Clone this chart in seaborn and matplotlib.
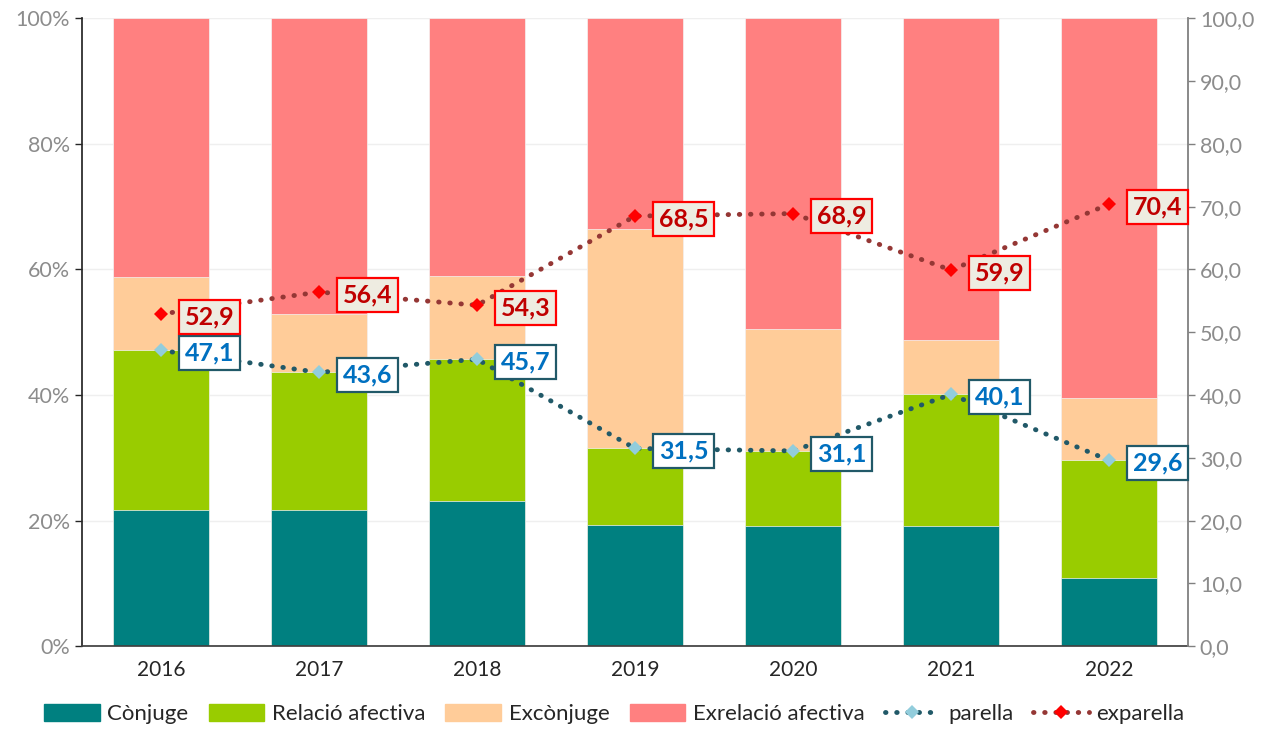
import numpy as np
import pandas as pd
import matplotlib.pyplot as plt
import seaborn as sns
from matplotlib.patches import Patch
from matplotlib.lines import Line2D

# Data (percentages)
years = ["2016", "2017", "2018", "2019", "2020", "2021", "2022"]
conjuge = [21.7, 21.7, 23.2, 19.3, 19.1, 19.1, 10.8]
relacio = [25.4, 21.9, 22.5, 12.2, 12.0, 21.0, 18.8]
exconjuge = [11.7, 9.3, 13.2, 34.9, 19.4, 8.6, 10.0]
exrelacio = [41.2, 47.1, 41.1, 33.6, 49.5, 51.3, 60.4]
parella = [47.1, 43.6, 45.7, 31.5, 31.1, 40.1, 29.6]
exparella = [52.9, 56.4, 54.3, 68.5, 68.9, 59.9, 70.4]

sns.set_theme(style="white")
plt.rcParams["font.family"] = ["Lato", "DejaVu Sans"]

colors = {"Cònjuge": "#008080", "Relació afectiva": "#99CC00",
          "Excònjuge": "#FFCC99", "Exrelació afectiva": "#FF8080"}

df = pd.DataFrame({"year": years, "Cònjuge": conjuge, "Relació afectiva": relacio,
                   "Excònjuge": exconjuge, "Exrelació afectiva": exrelacio})
series = ["Cònjuge", "Relació afectiva", "Excònjuge", "Exrelació afectiva"]
cum = df[series].cumsum(axis=1)

fig, ax = plt.subplots(figsize=(12.72, 7.31), dpi=100)
fig.subplots_adjust(left=0.0645, right=0.934, top=0.975, bottom=0.116)

# stacked bars: draw cumulative totals from the top down
for s in reversed(series):
    sns.barplot(x=df["year"], y=cum[s], color=colors[s], saturation=1,
                width=0.61, ax=ax, zorder=2, linewidth=0.5, edgecolor="#F4F4F4")

ax.set_xlim(-0.5, 6.5)
ax.set_ylim(0, 100)
ax.set_yticks(np.arange(0, 101, 20))
ax.set_yticklabels([f"{v}%" for v in range(0, 101, 20)])
ax.yaxis.grid(True, color="#EFEFEF", linewidth=1, zorder=0)
ax.set_axisbelow(True)
ax.set_xlabel("")
ax.set_ylabel("")
ax.set_xticks(np.arange(7))
ax.set_xticklabels(years)
ax.tick_params(axis="x", length=0, labelsize=15, labelcolor="#262626", pad=10)
ax.set_xticks(np.arange(-0.5, 7, 1), minor=True)
ax.tick_params(axis="x", which="minor", length=8, width=1, color="#404040", direction="out")
ax.tick_params(axis="y", length=5, width=1, color="#262626", direction="out",
               labelsize=15.5, labelcolor="#8C8C8C", left=True)
for side in ["top", "right"]:
    ax.spines[side].set_visible(False)
ax.spines["left"].set_color("#262626")
ax.spines["bottom"].set_color("#404040")

# secondary axis with lines
ax2 = ax.twinx()
xpos = np.arange(len(years))
dot = (0, (0.1, 2.2))
sns.lineplot(x=xpos, y=parella, ax=ax2, color="#215968", linewidth=3.5,
             linestyle=dot, dash_capstyle="round", marker="D", markersize=7,
             markerfacecolor="#92CDDC", markeredgewidth=0, zorder=3)
sns.lineplot(x=xpos, y=exparella, ax=ax2, color="#953735", linewidth=3.5,
             linestyle=dot, dash_capstyle="round", marker="D", markersize=7,
             markerfacecolor="#FF0000", markeredgewidth=0, zorder=3)
ax2.set_ylim(0, 100)
ax2.set_xlim(-0.5, 6.5)
ax2.set_yticks(np.arange(0, 101, 10))
ax2.set_yticklabels([f"{v:.1f}".replace(".", ",") for v in range(0, 101, 10)])
ax2.tick_params(axis="y", length=5, width=1, color="#808080", direction="out",
                labelsize=15.5, labelcolor="#8C8C8C", right=True)
for side in ["top", "left", "bottom"]:
    ax2.spines[side].set_visible(False)
ax2.spines["right"].set_color("#808080")
ax2.spines["right"].set_linewidth(1.3)

for i in range(len(years)):
    ax2.annotate(f"{parella[i]:.1f}".replace(".", ","), (xpos[i], parella[i]),
                 xytext=(35, -2), textcoords="offset points", ha="center", va="center",
                 fontsize=18, fontweight="bold", color="#0070C0", zorder=5,
                 bbox=dict(boxstyle="square,pad=0.22", fc="white", ec="#215968", lw=1.6))
    ax2.annotate(f"{exparella[i]:.1f}".replace(".", ","), (xpos[i], exparella[i]),
                 xytext=(35, -2), textcoords="offset points", ha="center", va="center",
                 fontsize=18, fontweight="bold", color="#C00000", zorder=5,
                 bbox=dict(boxstyle="square,pad=0.22", fc="#EEECE1", ec="#FF0000", lw=1.6))

handles = [Patch(color=colors[s], label=s) for s in series]
handles.append(Line2D([0], [0], color="#215968", linewidth=3.5, linestyle=dot,
                      dash_capstyle="round", marker="D", markersize=7,
                      markerfacecolor="#92CDDC", markeredgewidth=0, label="parella"))
handles.append(Line2D([0], [0], color="#953735", linewidth=3.5, linestyle=dot,
                      dash_capstyle="round", marker="D", markersize=7,
                      markerfacecolor="#FF0000", markeredgewidth=0, label="exparella"))
fig.legend(handles=handles, loc="lower center", bbox_to_anchor=(0.483, -0.018), ncol=6,
           frameon=False, fontsize=16, handlelength=2.5, handleheight=0.75,
           handletextpad=0.35, columnspacing=0.9, labelcolor="#262626")

plt.savefig("out.png", dpi=100)
